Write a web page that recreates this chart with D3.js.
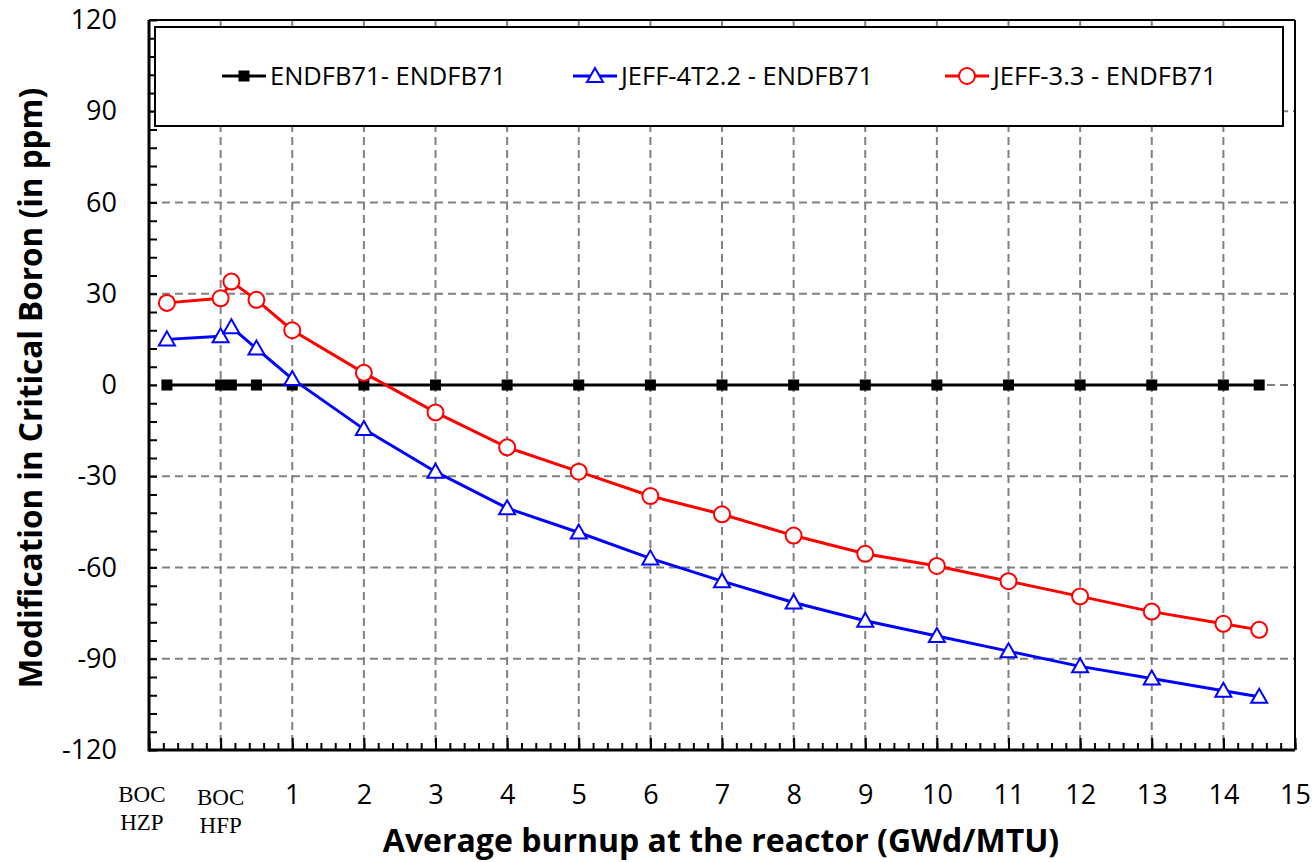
<!DOCTYPE html>
<html>
<head>
<meta charset="utf-8">
<script src="https://cdn.jsdelivr.net/npm/d3@7"></script>
<style>
  body { margin: 0; background: #fff; }
  svg text { font-family: "Open Sans", sans-serif; fill: #000; }
</style>
</head>
<body>
<svg id="chart"></svg>
<script>
// burnup points (GWd/MTU); BOC HZP sits left of 0
const burnup = [-0.75, 0, 0.15, 0.5, 1, 2, 3, 4, 5, 6, 7, 8, 9, 10, 11, 12, 13, 14, 14.5];
const endfb = [0, 0, 0, 0, 0, 0, 0, 0, 0, 0, 0, 0, 0, 0, 0, 0, 0, 0, 0];
const jeff4 = [15, 16, 19, 12, 2, -14.5, -28.5, -40.5, -48.5, -57, -64.5, -71.5, -77.5, -82.5, -87.5, -92.5, -96.5, -100.5, -102.5];
const jeff33 = [27, 28.5, 34, 28, 18, 4, -9, -20.5, -28.5, -36.5, -42.5, -49.5, -55.5, -59.5, -64.5, -69.5, -74.5, -78.5, -80.5];
const seriesNames = ['ENDFB71- ENDFB71', 'JEFF-4T2.2 - ENDFB71', 'JEFF-3.3 - ENDFB71'];
const xTickLabels = [1, 2, 3, 4, 5, 6, 7, 8, 9, 10, 11, 12, 13, 14, 15];
const yTickLabels = [-120, -90, -60, -30, 0, 30, 60, 90, 120];
const bocLabels = [['BOC', 'HZP'], ['BOC', 'HFP']];

const W = 1316, H = 862;
const margin = {top: 20, right: 21, bottom: 112, left: 149};
const iw = W - margin.left - margin.right;
const ih = H - margin.top - margin.bottom;

const svg = d3.select('#chart').attr('width', W).attr('height', H);
const g = svg.append('g').attr('transform', `translate(${margin.left},${margin.top})`);

const x = d3.scaleLinear().domain([-1, 15]).range([0, iw]);
const y = d3.scaleLinear().domain([-120, 120]).range([ih, 0]);

//グリッド
g.append('g').selectAll('line').data(d3.range(0, 15))
  .join('line')
  .attr('x1', d => x(d)).attr('x2', d => x(d))
  .attr('y1', 0).attr('y2', ih)
  .attr('stroke', '#808080').attr('stroke-width', 2).attr('stroke-dasharray', '8,5');
g.append('g').selectAll('line').data(d3.range(-90, 120, 30))
  .join('line')
  .attr('x1', 0).attr('x2', iw)
  .attr('y1', d => y(d)).attr('y2', d => y(d))
  .attr('stroke', '#808080').attr('stroke-width', 2).attr('stroke-dasharray', '8,5');

// top / right frame
g.append('line').attr('x1', 0).attr('x2', iw).attr('y1', 0).attr('y2', 0)
  .attr('stroke', '#000').attr('stroke-width', 2);
g.append('line').attr('x1', iw).attr('x2', iw).attr('y1', 0).attr('y2', ih)
  .attr('stroke', '#000').attr('stroke-width', 2);

// y ticks (inside)
const yMinor = g.append('g')
  .call(d3.axisRight(y).tickValues(d3.range(-120, 121, 6)).tickSize(8).tickFormat(''));
yMinor.selectAll('line').attr('stroke', '#000').attr('stroke-width', 2);
yMinor.select('.domain').remove();

const yLab = g.append('g')
  .call(d3.axisLeft(y).tickValues(yTickLabels).tickSize(0).tickPadding(32).tickFormat(d => String(d)));
yLab.select('.domain').remove();
yLab.selectAll('text').style('font-size', '27px').style('font-family', '"Open Sans", sans-serif');

// x ticks (inside)
const xMinor = g.append('g').attr('transform', `translate(0,${ih})`)
  .call(d3.axisTop(x).tickValues(d3.range(-1, 15.01, 0.2)).tickSize(7).tickFormat(''));
xMinor.selectAll('line').attr('stroke', '#000').attr('stroke-width', 2);
xMinor.select('.domain').remove();
const xMajor = g.append('g').attr('transform', `translate(0,${ih})`)
  .call(d3.axisTop(x).tickValues(d3.range(-1, 16, 1)).tickSize(12).tickFormat(''));
xMajor.selectAll('line').attr('stroke', '#000').attr('stroke-width', 2);
xMajor.select('.domain').remove();

const xLab = g.append('g').attr('transform', `translate(0,${ih})`)
  .call(d3.axisBottom(x).tickValues(xTickLabels).tickSize(0).tickPadding(35).tickFormat(d => String(d)));
xLab.select('.domain').remove();
xLab.selectAll('text').style('font-size', '27px').style('font-family', '"Open Sans", sans-serif');

// BOC labels
const bocPos = [-1.1, 0];
bocLabels.forEach((lines, i) => {
  const t = g.append('text')
    .attr('text-anchor', 'middle')
    .style('font-family', '"Liberation Serif", serif')
    .style('font-size', '23px');
  lines.forEach((s, j) => {
    t.append('tspan')
      .attr('x', x(bocPos[i]))
      .attr('y', ih + 52 + i * 3 + j * 28)
      .text(s);
  });
});

// axis lines (left / bottom)
g.append('line').attr('x1', 0).attr('x2', 0).attr('y1', 0).attr('y2', ih + 1.5)
  .attr('stroke', '#000').attr('stroke-width', 3);
g.append('line').attr('x1', 0).attr('x2', iw).attr('y1', ih).attr('y2', ih)
  .attr('stroke', '#000').attr('stroke-width', 3);

// series
const series = [
  {name: seriesNames[0], values: endfb, color: '#000000', marker: 'square'},
  {name: seriesNames[1], values: jeff4, color: '#0000ff', marker: 'triangle'},
  {name: seriesNames[2], values: jeff33, color: '#ff0000', marker: 'circle'}
];

const line = d3.line().x(d => x(d[0])).y(d => y(d[1]));

function drawMarker(sel, type, color) {
  if (type === 'square') {
    sel.append('rect').attr('x', -5.5).attr('y', -5.5).attr('width', 11).attr('height', 11)
      .attr('fill', color);
  } else if (type === 'triangle') {
    sel.append('path').attr('d', 'M0,-8 L8,6 L-8,6 Z')
      .attr('fill', '#fff').attr('stroke', color).attr('stroke-width', 2);
  } else {
    sel.append('circle').attr('r', 8)
      .attr('fill', '#fff').attr('stroke', color).attr('stroke-width', 2);
  }
}

series.forEach(s => {
  const pts = burnup.map((b, i) => [b, s.values[i]]);
  g.append('path').datum(pts)
    .attr('d', line)
    .attr('fill', 'none')
    .attr('stroke', s.color)
    .attr('stroke-width', 3);
  g.append('g').selectAll('g').data(pts)
    .join('g')
    .attr('transform', d => `translate(${x(d[0])},${y(d[1])})`)
    .each(function() { drawMarker(d3.select(this), s.marker, s.color); });
});

// legend
const lg = svg.append('g');
lg.append('rect')
  .attr('x', 155).attr('y', 27).attr('width', 1128).attr('height', 99)
  .attr('fill', '#fff').attr('stroke', '#000').attr('stroke-width', 2);
const legendX = [222, 573, 945];
series.forEach((s, i) => {
  const e = lg.append('g').attr('transform', `translate(${legendX[i]},76)`);
  e.append('line').attr('x1', 0).attr('x2', 44).attr('y1', 0).attr('y2', 0)
    .attr('stroke', s.color).attr('stroke-width', 3);
  drawMarker(e.append('g').attr('transform', 'translate(22,0)'), s.marker, s.color);
  e.append('text').attr('x', 48).attr('y', 9)
    .style('font-size', '25.5px')
    .text(s.name);
});

// axis titles
svg.append('text')
  .attr('text-anchor', 'middle')
  .attr('transform', `translate(42,${margin.top + ih / 2 + 3}) rotate(-90)`)
  .style('font-size', '31.5px').style('font-weight', 'bold')
  .text('Modification in Critical Boron (in ppm)');
svg.append('text')
  .attr('text-anchor', 'middle')
  .attr('x', 721).attr('y', 852)
  .style('font-size', '32px').style('font-weight', 'bold')
  .text('Average burnup at the reactor (GWd/MTU)');
</script>
</body>
</html>
